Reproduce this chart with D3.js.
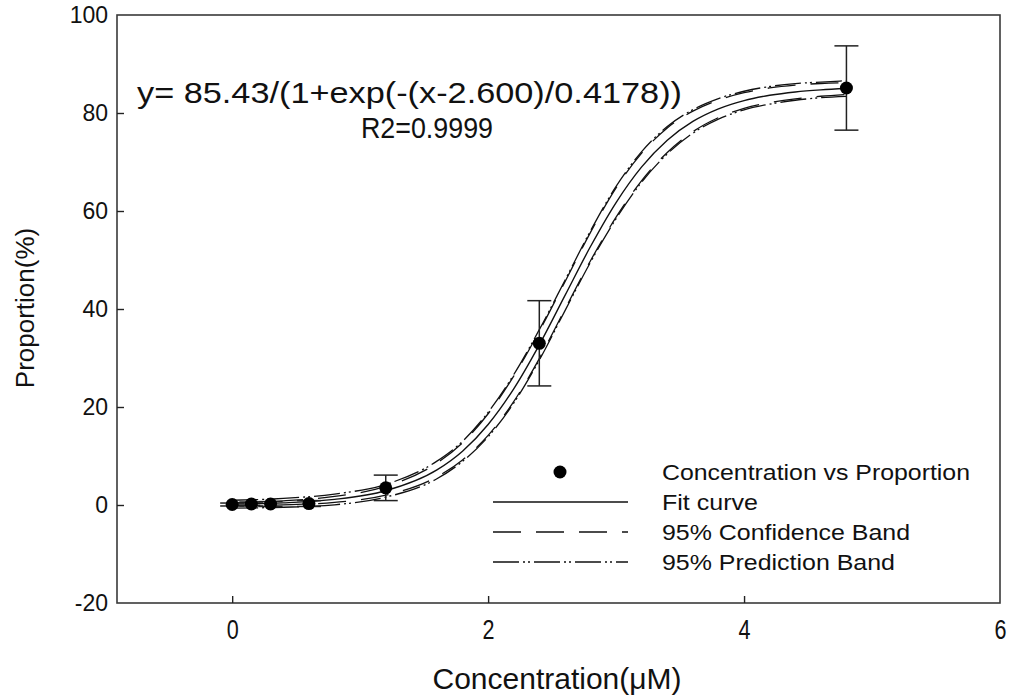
<!DOCTYPE html>
<html><head><meta charset="utf-8">
<script src="https://cdn.jsdelivr.net/npm/d3@7"></script>
<style>body{margin:0;background:#fff}svg{display:block}text{font-family:"Liberation Sans",Arial,sans-serif;fill:#111}</style>
</head><body>
<script>
// ---- data ----
const concX = [0, 0.15, 0.3, 0.6, 1.2, 2.4, 4.8];
const proportion = [0.1, 0.2, 0.2, 0.3, 3.5, 33.0, 85.1];
const errorBars = [0.3, 0.4, 0.5, 0.6, 2.6, 8.7, 8.6];
const curveX = [0, 0.4, 0.8, 1.2, 1.6, 1.8, 2.0, 2.2, 2.4, 2.6, 2.8, 3.0, 3.2, 3.4, 3.6, 3.8, 4.0, 4.2, 4.4, 4.6, 4.8];
const fitY = [0.17, 0.44, 1.14, 2.90, 7.15, 10.97, 16.42, 23.70, 32.68, 42.72, 52.75, 61.73, 69.01, 74.45, 78.28, 80.85, 82.54, 83.61, 84.30, 84.72, 84.99];
const confLower = [-0.13, 0.04, 0.54, 2.00, 5.75, 9.2, 14.22, 21.10, 29.88, 39.92, 49.85, 58.73, 66.21, 71.95, 76.18, 79.05, 80.94, 82.11, 82.90, 83.42, 83.79];
const confUpper = [0.47, 0.84, 1.74, 3.80, 8.55, 12.7, 18.62, 26.30, 35.48, 45.52, 55.65, 64.73, 71.81, 76.95, 80.38, 82.65, 84.14, 85.11, 85.70, 86.02, 86.19];
const predLower = [-0.63, -0.46, 0.04, 1.60, 5.35, 8.9, 13.92, 20.80, 29.58, 39.62, 49.55, 58.43, 65.91, 71.65, 75.88, 78.75, 80.64, 81.81, 82.60, 83.12, 83.39];
const predUpper = [0.97, 1.34, 2.24, 4.20, 8.95, 13.0, 18.92, 26.60, 35.78, 45.82, 55.95, 65.03, 72.11, 77.25, 80.68, 82.95, 84.44, 85.41, 86.00, 86.32, 86.59];
const xTicks = [0, 2, 4, 6];
const yTicks = [-20, 0, 20, 40, 60, 80, 100];
const legendLabels = ["Concentration vs Proportion", "Fit curve", "95% Confidence Band", "95% Prediction Band"];
const equationText = "y= 85.43/(1+exp(-(x-2.600)/0.4178))";
const r2Text = "R2=0.9999";
const xTitle = "Concentration(\u03BCM)";
const yTitle = "Proportion(%)";

// ---- chart ----
const W = 1009, H = 697;
const svg = d3.select("body").append("svg").attr("width", W).attr("height", H);
const m = {l: 117, r: 1000, t: 15, b: 603};
const x = d3.scaleLinear().domain([-0.9, 6]).range([m.l, m.r]);
const y = d3.scaleLinear().domain([-20, 100]).range([m.b, m.t]);

// frame
svg.append("rect").attr("x", m.l).attr("y", m.t).attr("width", m.r - m.l).attr("height", m.b - m.t)
  .attr("fill", "none").attr("stroke", "#3a3a3a").attr("stroke-width", 1.6);

// axes (ticks inward)
const xAxis = svg.append("g").attr("transform", `translate(0,${m.b})`)
  .call(d3.axisBottom(x).tickValues(xTicks).tickSize(-7).tickPadding(16).tickFormat(d => String(d)));
xAxis.select(".domain").remove();
xAxis.selectAll(".tick line").attr("stroke", "#222").attr("stroke-width", 1.4);
xAxis.selectAll(".tick text").attr("font-size", 28).attr("fill", "#111").attr("dy", "0.71em")
  .attr("textLength", 12).attr("lengthAdjust", "spacingAndGlyphs");
const yAxis = svg.append("g").attr("transform", `translate(${m.l},0)`)
  .call(d3.axisLeft(y).tickValues(yTicks).tickSize(-7).tickPadding(9).tickFormat(d => String(d)));
yAxis.select(".domain").remove();
yAxis.selectAll(".tick line").attr("stroke", "#222").attr("stroke-width", 1.4);
yAxis.selectAll(".tick text").attr("font-size", 23).attr("fill", "#111");
xAxis.selectAll(".tick").filter(d => d === 6).select("line").remove();
yAxis.selectAll(".tick").filter(d => d === 100 || d === -20).select("line").remove();

// titles
svg.append("text").attr("x", 557).attr("y", 689).attr("text-anchor", "middle").attr("font-size", 30)
  .attr("textLength", 249).attr("lengthAdjust", "spacingAndGlyphs").text(xTitle);
svg.append("text").attr("transform", "translate(34,308) rotate(-90)").attr("text-anchor", "middle").attr("font-size", 26).text(yTitle);

// curves
const line = (ys) => d3.line().x((d, i) => x(curveX[i])).y((d, i) => y(ys[i])).curve(d3.curveMonotoneX)(ys);
const g = svg.append("g").attr("fill", "none").attr("stroke", "#111");
const predDash = "26,4,2,3,2,4";
const confDash = "28,15";
g.append("path").attr("d", line(predLower)).attr("stroke-width", 1.3).attr("stroke-dasharray", predDash);
g.append("path").attr("d", line(predUpper)).attr("stroke-width", 1.3).attr("stroke-dasharray", predDash);
g.append("path").attr("d", line(confLower)).attr("stroke-width", 1.3).attr("stroke-dasharray", confDash);
g.append("path").attr("d", line(confUpper)).attr("stroke-width", 1.3).attr("stroke-dasharray", confDash);
g.append("path").attr("d", line(fitY)).attr("stroke-width", 1.4);

// error bars
const eb = svg.append("g").attr("stroke", "#222").attr("stroke-width", 1.5);
concX.forEach((cx, i) => {
  const x0 = x(cx), y1 = y(proportion[i] + errorBars[i]), y2 = y(proportion[i] - errorBars[i]);
  eb.append("line").attr("x1", x0).attr("x2", x0).attr("y1", y1).attr("y2", y2);
  eb.append("line").attr("x1", x0 - 12).attr("x2", x0 + 12).attr("y1", y1).attr("y2", y1);
  eb.append("line").attr("x1", x0 - 12).attr("x2", x0 + 12).attr("y1", y2).attr("y2", y2);
});
// points
svg.append("g").selectAll("circle").data(concX).join("circle")
  .attr("cx", d => x(d)).attr("cy", (d, i) => y(proportion[i])).attr("r", 6.5).attr("fill", "#000");

// equation
svg.append("text").attr("x", 137).attr("y", 103).attr("font-size", 30).attr("textLength", 545).attr("lengthAdjust", "spacingAndGlyphs").text(equationText);
svg.append("text").attr("x", 361).attr("y", 138).attr("font-size", 30).attr("textLength", 132).attr("lengthAdjust", "spacingAndGlyphs").text(r2Text);

// legend
const lg = svg.append("g");
const ly = [472, 502, 532, 562];
const lx1 = 493, lx2 = 628, ltx = 662;
lg.append("circle").attr("cx", 560).attr("cy", ly[0]).attr("r", 6.5).attr("fill", "#000");
lg.append("line").attr("x1", lx1).attr("x2", lx2).attr("y1", ly[1]).attr("y2", ly[1]).attr("stroke", "#111").attr("stroke-width", 1.4);
lg.append("line").attr("x1", lx1).attr("x2", lx2).attr("y1", ly[2]).attr("y2", ly[2]).attr("stroke", "#111").attr("stroke-width", 1.4).attr("stroke-dasharray", confDash);
lg.append("line").attr("x1", lx1).attr("x2", lx2).attr("y1", ly[3]).attr("y2", ly[3]).attr("stroke", "#111").attr("stroke-width", 1.4).attr("stroke-dasharray", predDash);
const lw = [308, 96, 248, 233];
legendLabels.forEach((t, i) => {
  lg.append("text").attr("x", ltx).attr("y", ly[i]).attr("dy", "0.36em").attr("font-size", 22)
    .attr("textLength", lw[i]).attr("lengthAdjust", "spacingAndGlyphs").text(t);
});
</script>
</body></html>
